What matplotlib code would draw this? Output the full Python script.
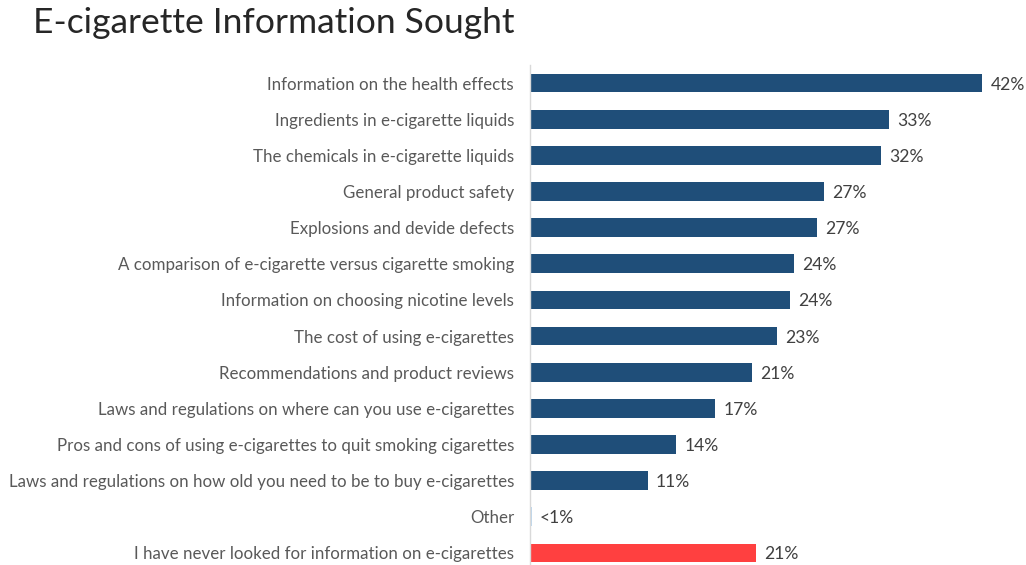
import matplotlib
matplotlib.use("Agg")
import matplotlib.pyplot as plt

plt.rcParams['font.family'] = ['Lato', 'DejaVu Sans']

categories = [
    "Information on the health effects",
    "Ingredients in e-cigarette liquids",
    "The chemicals in e-cigarette liquids",
    "General product safety",
    "Explosions and devide defects",
    "A comparison of e-cigarette versus cigarette smoking",
    "Information on choosing nicotine levels",
    "The cost of using e-cigarettes",
    "Recommendations and product reviews",
    "Laws and regulations on where can you use e-cigarettes",
    "Pros and cons of using e-cigarettes to quit smoking cigarettes",
    "Laws and regulations on how old you need to be to buy e-cigarettes",
    "Other",
    "I have never looked for information on e-cigarettes",
]
values = [41.85, 33.2, 32.46, 27.19, 26.57, 24.47, 24.04, 22.87, 20.52,
          17.16, 13.55, 10.89, 0.15, 20.95]
value_labels = ["42%", "33%", "32%", "27%", "27%", "24%", "24%", "23%", "21%",
                "17%", "14%", "11%", "<1%", "21%"]
title = "E-cigarette Information Sought"

blue = "#1F4E79"
red = "#FF4040"
colors = [blue] * 12 + ["#BDD7EE", red]

fig = plt.figure(figsize=(10.26, 5.65), dpi=100)
ax = fig.add_axes([0.5166, -0.0106, 0.4842, 0.8956])

y = list(range(len(categories)))
ax.barh(y, values, height=0.52, color=colors)
ax.set_ylim(len(categories) - 0.5, -0.5)
ax.set_xlim(0, 46)

ax.set_yticks(y)
ax.set_yticklabels(categories, fontsize=12.2, color="#595959")
ax.tick_params(axis='y', length=0, pad=11.5)
ax.set_xticks([])

for s in ["top", "right", "bottom"]:
    ax.spines[s].set_visible(False)
ax.spines["left"].set_color("#D9D9D9")
ax.spines["left"].set_linewidth(1)

for yi, v, lab in zip(y, values, value_labels):
    ax.annotate(lab, xy=(v, yi), xytext=(6, 0), textcoords="offset points",
                ha="left", va="center_baseline", fontsize=12.6, color="#404040")

fig.text(33 / 1026, 1 - 23 / 565, title, fontsize=25.5, color="#262626",
         ha="left", va="center", fontweight="normal")

fig.savefig("out.png", dpi=100)
